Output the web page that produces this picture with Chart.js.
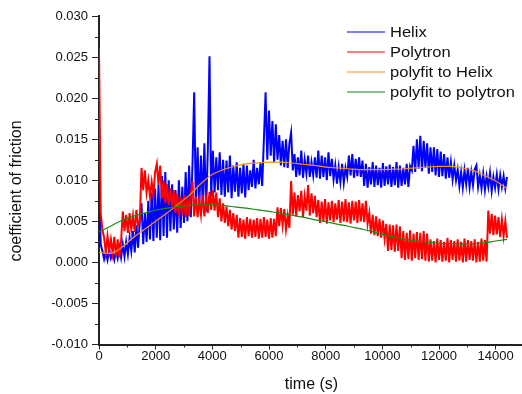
<!DOCTYPE html>
<html>
<head>
<meta charset="utf-8">
<script src="https://cdn.jsdelivr.net/npm/chart.js@4"></script>
<style>
  html, body { margin: 0; padding: 0; background: #fff; overflow: hidden; }
  canvas { display: block; }
</style>
</head>
<body>
<canvas id="cof" width="530" height="394"></canvas>
<script>
// === Data ===

// raw traces are sampled every 60 s, from 0 to 14400 s
const traceStep = 60;

const helixCof = [
	0.0100, 0.0022, 0.0014, 0.0004, 0.0013, 0.0003, 0.0015, 0.0005, 0.0012, 0.0003, 0.0014, 0.0005,
	0.0018, 0.0006, 0.0022, 0.0007, 0.0025,
	0.0010, 0.0030, 0.0014, 0.0038, 0.0012, 0.0045, 0.0018, 0.0050,
	0.0072,
	0.0022, 0.0060, 0.0025, 0.0075, 0.0028, 0.0085, 0.0026, 0.0090,
	0.0030, 0.0095, 0.0027, 0.0105, 0.0032, 0.0110, 0.0030, 0.0100,
	0.0038, 0.0095, 0.0040, 0.0088, 0.0036, 0.0100, 0.0042, 0.0092,
	0.0048, 0.0110, 0.0050, 0.0118, 0.0055, 0.0120,
	0.0207, 0.0065,
	0.0140, 0.0068, 0.0130, 0.0072, 0.0145, 0.0062, 0.0135,
	0.0251,
	0.0080, 0.0136, 0.0085, 0.0128, 0.0088, 0.0134, 0.0082, 0.0125,
	0.0080, 0.0124, 0.0085, 0.0130, 0.0078, 0.0118, 0.0086, 0.0122, 0.0080, 0.0115, 0.0084, 0.0120, 0.0079,
	0.0118, 0.0088, 0.0112, 0.0092, 0.0125, 0.0090, 0.0115, 0.0095, 0.0122, 0.0093,
	0.0150, 0.0207,
	0.0125, 0.0185, 0.0130, 0.0172, 0.0122, 0.0168, 0.0125,
	0.0155, 0.0118, 0.0148, 0.0116, 0.0150, 0.0115, 0.0145, 0.0158,
	0.0112, 0.0132, 0.0104, 0.0128, 0.0106, 0.0136, 0.0103, 0.0125, 0.0108, 0.0130, 0.0104, 0.0122, 0.0106, 0.0128, 0.0103,
	0.0136, 0.0102, 0.0130, 0.0104, 0.0128, 0.0100, 0.0134, 0.0105, 0.0126, 0.0101,
	0.0118, 0.0096, 0.0116, 0.0098, 0.0120, 0.0097, 0.0115,
	0.0104, 0.0130, 0.0106, 0.0132, 0.0103, 0.0126, 0.0105, 0.0128, 0.0104, 0.0124,
	0.0093, 0.0120, 0.0091, 0.0116, 0.0095, 0.0122, 0.0092, 0.0118, 0.0094, 0.0115, 0.0091, 0.0121, 0.0093, 0.0117,
	0.0095, 0.0119, 0.0092, 0.0116, 0.0094, 0.0122, 0.0091, 0.0118, 0.0093, 0.0115, 0.0095, 0.0120, 0.0092, 0.0117,
	0.0112, 0.0142, 0.0110, 0.0150, 0.0114, 0.0154, 0.0111, 0.0148, 0.0115, 0.0145, 0.0108, 0.0140,
	0.0110, 0.0140, 0.0106, 0.0138, 0.0104, 0.0135, 0.0105, 0.0132, 0.0102, 0.0128, 0.0103, 0.0122, 0.0101, 0.0118, 0.0100,
	0.0113, 0.0093, 0.0110, 0.0091, 0.0112, 0.0095, 0.0115, 0.0092, 0.0110, 0.0094, 0.0113, 0.0118, 0.0092,
	0.0106, 0.0090, 0.0108, 0.0088, 0.0105, 0.0092, 0.0109, 0.0087, 0.0104, 0.0091, 0.0107, 0.0089, 0.0106, 0.0092, 0.0105, 0.0090, 0.0104
];

const polytronCof = [
	0.0261, 0.0060, 0.0040,
	0.0030, 0.0012, 0.0032, 0.0014, 0.0028, 0.0011, 0.0031,
	0.0008, 0.0028, 0.0006, 0.0026,
	0.0062, 0.0038, 0.0058, 0.0036, 0.0060, 0.0040, 0.0057, 0.0037, 0.0064, 0.0045,
	0.0050, 0.0115,
	0.0088, 0.0112, 0.0085, 0.0100, 0.0080,
	0.0098, 0.0082, 0.0110,
	0.0120, 0.0095,
	0.0118, 0.0078, 0.0100, 0.0072, 0.0095, 0.0070, 0.0090, 0.0068, 0.0088,
	0.0060, 0.0084, 0.0056, 0.0080, 0.0058, 0.0082, 0.0055, 0.0079, 0.0057, 0.0083,
	0.0099,
	0.0056, 0.0080, 0.0055, 0.0076, 0.0058, 0.0082, 0.0056, 0.0078,
	0.0060, 0.0086, 0.0064, 0.0088, 0.0063, 0.0085,
	0.0055, 0.0078, 0.0050, 0.0072, 0.0048, 0.0068, 0.0044, 0.0064, 0.0040, 0.0060, 0.0038, 0.0058,
	0.0030, 0.0054, 0.0031, 0.0052, 0.0029, 0.0055, 0.0032, 0.0053, 0.0030, 0.0052, 0.0031, 0.0054,
	0.0029, 0.0053, 0.0030, 0.0055, 0.0031, 0.0052, 0.0029, 0.0054, 0.0030, 0.0053, 0.0032,
	0.0067, 0.0044, 0.0066, 0.0045, 0.0065,
	0.0040, 0.0057, 0.0042, 0.0099,
	0.0058, 0.0085, 0.0056, 0.0082, 0.0062, 0.0087, 0.0055, 0.0080, 0.0063, 0.0094, 0.0057, 0.0084, 0.0060, 0.0081, 0.0055,
	0.0076, 0.0048, 0.0074, 0.0050, 0.0077, 0.0047, 0.0073, 0.0051, 0.0075, 0.0049, 0.0072, 0.0052, 0.0076, 0.0048, 0.0074,
	0.0050, 0.0077, 0.0049, 0.0073, 0.0047, 0.0075, 0.0051, 0.0074, 0.0048, 0.0076, 0.0050, 0.0072, 0.0049, 0.0075, 0.0047,
	0.0060, 0.0035, 0.0058, 0.0033, 0.0056, 0.0032, 0.0053, 0.0030, 0.0051, 0.0029,
	0.0047, 0.0014, 0.0046, 0.0015, 0.0045, 0.0013, 0.0046, 0.0014, 0.0044,
	0.0005, 0.0038, 0.0003, 0.0036, 0.0004, 0.0039, 0.0002, 0.0035, 0.0005, 0.0037, 0.0003, 0.0036, 0.0004, 0.0038, 0.0002, 0.0035,
	0.0001, 0.0028, 0.0002, 0.0026, 0.0000, 0.0029, 0.0003, 0.0027, 0.0001, 0.0025, 0.0002, 0.0030,
	0.0000, 0.0027, 0.0003, 0.0026, 0.0001, 0.0028, 0.0002, 0.0025, 0.0000, 0.0029, 0.0001, 0.0027,
	0.0003, 0.0026, 0.0002, 0.0028, 0.0000, 0.0025, 0.0001, 0.0029, 0.0002, 0.0027, 0.0001,
	0.0063,
	0.0035, 0.0059, 0.0033, 0.0057, 0.0034, 0.0055, 0.0031, 0.0052, 0.0032, 0.0050, 0.0030
];

// polynomial fits, read every 400 s
const fitTimes = [
	0, 400, 800, 1200, 1600, 2000, 2400, 2800, 3200, 3600, 4000, 4400, 4800,
	5200, 5600, 6000, 6400, 6800, 7200, 7600, 8000, 8400, 8800, 9200, 9600,
	10000, 10400, 10800, 11200, 11600, 12000, 12400, 12800, 13200, 13600, 14000, 14400
];
const helixFit = [
	0.0012, 0.0011, 0.0018, 0.0030, 0.0040, 0.0050, 0.0060, 0.0071, 0.0082, 0.0096, 0.0107, 0.0113, 0.0117,
	0.0120, 0.0121, 0.0122, 0.0122, 0.0121, 0.01195, 0.0118, 0.0116, 0.0115, 0.0114, 0.0113, 0.0113,
	0.0113, 0.01135, 0.0114, 0.0115, 0.0116, 0.0117, 0.0117, 0.0115, 0.0112, 0.0106, 0.0099, 0.0090
];
const polytronFit = [
	0.0037, 0.0044, 0.0051, 0.0056, 0.0060, 0.00635, 0.0066, 0.0068, 0.00695, 0.0070, 0.0070, 0.0069, 0.00675,
	0.0066, 0.0064, 0.0062, 0.0060, 0.00575, 0.0055, 0.0052, 0.00495, 0.00465, 0.0044, 0.0041, 0.0038,
	0.0034, 0.0031, 0.0028, 0.0026, 0.00245, 0.00235, 0.0023, 0.00225, 0.0023, 0.0024, 0.0026, 0.0028
];

const seriesNames = ['Helix', 'Polytron', 'polyfit to Helix', 'polyfit to polytron'];
const seriesColors = ['#0000ff', '#ff0000', '#ff8c1a', '#178a17'];

const timeTicks = [0, 2000, 4000, 6000, 8000, 10000, 12000, 14000];


// === Helpers ===

const traceTimes = helixCof.map((_, i) => i * traceStep);

function toPoints(times, values) {
	return values.map((v, i) => ({ x: times[i], y: v }));
}

Chart.defaults.font.family = "'Liberation Sans', Arial, sans-serif";
Chart.defaults.color = '#111';

// short minor ticks between the labelled ones
const minorTicks = {
	id: 'minorTicks',
	afterDraw(chart) {
		const ctx = chart.ctx;
		const x = chart.scales.x;
		const y = chart.scales.y;
		ctx.save();
		ctx.strokeStyle = '#222';
		ctx.lineWidth = 1;
		ctx.beginPath();
		for (let t = 1000; t < 15000; t += 2000) {
			const px = Math.round(x.getPixelForValue(t)) + 0.5;
			ctx.moveTo(px, y.bottom);
			ctx.lineTo(px, y.bottom + 3);
		}
		for (let v = -0.0075; v < 0.03; v += 0.005) {
			const py = Math.round(y.getPixelForValue(v)) + 0.5;
			ctx.moveTo(x.left - 4, py);
			ctx.lineTo(x.left, py);
		}
		ctx.stroke();
		ctx.restore();
	}
};

// legend drawn inside the frame, top right (text slightly widened like the original)
const frameLegend = {
	id: 'frameLegend',
	afterDraw(chart, args, opts) {
		const ctx = chart.ctx;
		ctx.save();
		ctx.font = opts.font;
		ctx.textBaseline = 'middle';
		chart.data.datasets.forEach((ds, i) => {
			const yy = opts.top + i * opts.rowHeight;
			ctx.strokeStyle = ds.borderColor;
			ctx.lineWidth = 1.2;
			ctx.beginPath();
			ctx.moveTo(opts.left, yy);
			ctx.lineTo(opts.left + opts.lineLength, yy);
			ctx.stroke();
			ctx.save();
			ctx.translate(opts.left + opts.lineLength + 5, yy + 1);
			ctx.scale(opts.stretch, 1);
			ctx.fillStyle = '#111';
			ctx.fillText(ds.label, 0, 0);
			ctx.restore();
		});
		ctx.restore();
	}
};

// y axis title, centred a little below the plot middle like the original
const yTitle = {
	id: 'yTitle',
	afterDraw(chart, args, opts) {
		const ctx = chart.ctx;
		ctx.save();
		ctx.font = opts.font;
		ctx.fillStyle = '#111';
		ctx.textAlign = 'center';
		ctx.textBaseline = 'middle';
		ctx.translate(opts.x, opts.y);
		ctx.rotate(-Math.PI / 2);
		ctx.fillText(opts.text, 0, 0);
		ctx.restore();
	}
};


// === Chart ===

new Chart(document.getElementById('cof'), {
	type: 'line',
	data: {
		datasets: [
			{
				label: seriesNames[0],
				data: toPoints(traceTimes, helixCof),
				borderColor: seriesColors[0],
				borderWidth: 2,
				pointRadius: 0,
				order: 4
			},
			{
				label: seriesNames[1],
				data: toPoints(traceTimes, polytronCof),
				borderColor: seriesColors[1],
				borderWidth: 2,
				pointRadius: 0,
				order: 3
			},
			{
				label: seriesNames[2],
				data: toPoints(fitTimes, helixFit),
				borderColor: seriesColors[2],
				borderWidth: 1.2,
				pointRadius: 0,
				cubicInterpolationMode: 'monotone',
				order: 2
			},
			{
				label: seriesNames[3],
				data: toPoints(fitTimes, polytronFit),
				borderColor: seriesColors[3],
				borderWidth: 1.2,
				pointRadius: 0,
				cubicInterpolationMode: 'monotone',
				order: 1
			}
		]
	},
	options: {
		responsive: false,
		animation: false,
		devicePixelRatio: 1,
		events: [],
		layout: { padding: { top: 16, right: 6, left: 0, bottom: 0 } },
		plugins: {
			legend: { display: false },
			tooltip: { enabled: false },
			frameLegend: { left: 347, top: 32, rowHeight: 20, lineLength: 38, stretch: 1.18, font: "14px 'Liberation Sans', Arial, sans-serif" },
			yTitle: { text: 'coefficient of friction', x: 17, y: 191, font: "16px 'Liberation Sans', Arial, sans-serif" }
		},
		scales: {
			x: {
				type: 'linear',
				min: 0,
				max: 15000,
				afterFit: s => { s.height = 49.5; },
				afterBuildTicks: s => { s.ticks = timeTicks.map(v => ({ value: v })); },
				ticks: {
					autoSkip: false,
					maxRotation: 0,
					padding: -1,
					font: { size: 13 },
					callback: v => String(v)
				},
				grid: { drawOnChartArea: false, tickLength: 5, tickColor: '#222', tickWidth: 1 },
				border: { color: '#222', width: 2 },
				title: { display: true, text: 'time (s)', font: { size: 16 }, padding: 0 }
			},
			y: {
				min: -0.01,
				max: 0.03,
				afterFit: s => { s.width = 99; },
				ticks: {
					stepSize: 0.005,
					padding: 4,
					font: { size: 13 },
					callback: v => (Math.abs(v) < 1e-9 ? '0.000' : v.toFixed(3))
				},
				grid: { drawOnChartArea: false, tickLength: 7, tickColor: '#222', tickWidth: 1 },
				border: { color: '#222', width: 2 }
			}
		}
	},
	plugins: [minorTicks, frameLegend, yTitle]
});
</script>
</body>
</html>
